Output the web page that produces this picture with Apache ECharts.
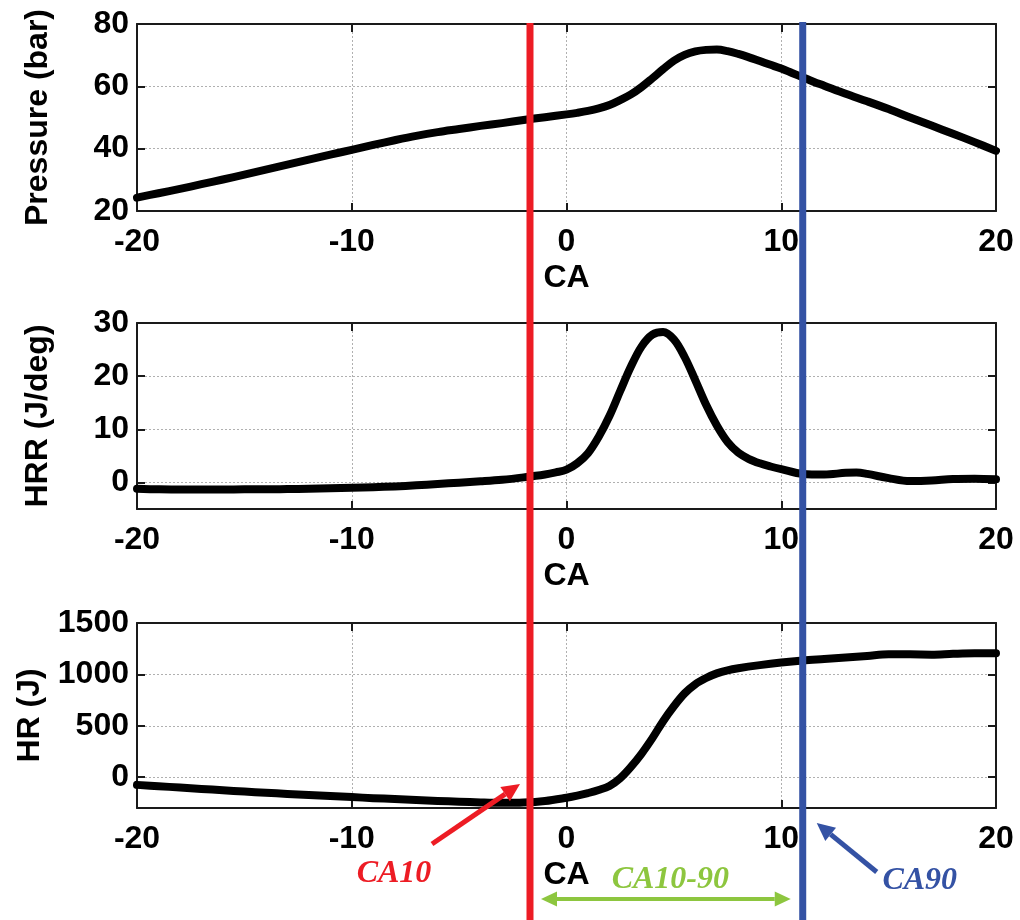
<!DOCTYPE html>
<html>
<head>
<meta charset="utf-8">
<script src="https://cdn.jsdelivr.net/npm/echarts@6/dist/echarts.min.js"></script>
<style>
  html, body { margin: 0; padding: 0; background: #fff; }
  #main { width: 1020px; height: 920px; }
</style>
</head>
<body>
<div id="main"></div>
<script>
// Crank angle (deg) and in-cylinder pressure (bar)
const caPressure = [-20,-19,-18,-17,-16,-15,-14,-13,-12,-11,-10,-9,-8,-7,-6,-5,-4,-3,-2,-1,
  0,0.5,1,1.5,2,2.5,3,3.5,4,4.5,5,5.5,6,6.5,7,7.5,8,8.5,9,9.5,10,10.5,11,11.5,12,13,14,15,16,17,18,19,20];
const pressure = [24.3,25.7,27.1,28.6,30.1,31.7,33.3,34.9,36.5,38.1,39.6,41.2,42.7,44.1,45.3,46.3,47.3,48.2,49.2,50.1,
  51.0,51.5,52.1,52.9,54.0,55.6,57.4,59.8,62.6,65.5,68.2,70.1,71.2,71.7,71.8,71.3,70.4,69.3,68.1,66.9,65.7,64.3,62.9,61.5,60.2,57.6,55.2,52.7,50.0,47.4,44.8,42.1,39.3];

// Heat release rate (J/deg)
const caHrr = [-20,-19,-18,-17,-16,-15,-14,-13,-12,-11,-10,-9,-8,-7,-6,-5,-4,-3,-2,-1,-0.5,
  0,0.5,1,1.5,2,2.5,3,3.5,4,4.5,5,5.5,6,6.5,7,7.5,8,8.5,9,9.5,10,11,12,13,13.5,14,15,16,17,18,19,20];
const hrr = [-1.2,-1.3,-1.35,-1.35,-1.35,-1.3,-1.3,-1.25,-1.2,-1.1,-1.0,-0.9,-0.75,-0.55,-0.3,-0.05,0.2,0.5,0.95,1.5,1.9,
  2.4,3.6,5.5,8.6,12.5,17.2,21.8,25.6,27.8,28.3,26.9,23.6,19.2,14.6,10.7,7.6,5.6,4.4,3.6,3.0,2.5,1.6,1.5,1.8,1.85,1.6,0.8,0.25,0.35,0.65,0.7,0.6];

// Cumulative heat release (J)
const caHr = [-20,-19,-18,-17,-16,-15,-14,-13,-12,-11,-10,-9,-8,-7,-6,-5,-4,-3,-2,-1,
  0,0.5,1,1.5,2,2.5,3,3.5,4,4.5,5,5.5,6,6.5,7,7.5,8,9,10,11,12,13,14,15,16,17,18,19,20];
const hr = [-75,-88,-101,-114,-127,-140,-152,-163,-174,-184,-194,-204,-213,-222,-231,-239,-246,-250,-247,-232,
  -200,-180,-155,-125,-85,-10,100,230,380,545,690,815,905,965,1010,1040,1060,1090,1115,1135,1150,1165,1180,1195,1195,1192,1200,1205,1205];

// Combustion phasing markers (deg)
const ca10 = -1.7;
const ca90 = 11.0;

// Axis ticks
const xTicks = [-20, -10, 0, 10, 20];
const pressureTicks = [20, 40, 60, 80];
const hrrTicks = [0, 10, 20, 30];
const hrTicks = [0, 500, 1000, 1500];

const panels = [
  { top: 24, height: 187, min: 20, max: 80, ticks: pressureTicks, name: 'Pressure (bar)', nameGap: 83, ca: caPressure, values: pressure },
  { top: 323, height: 186, min: -5, max: 30, ticks: hrrTicks, name: 'HRR (J/deg)', nameGap: 83, ca: caHrr, values: hrr },
  { top: 623, height: 185, min: -300, max: 1500, ticks: hrTicks, name: 'HR (J)', nameGap: 91, ca: caHr, values: hr }
];

const FONT = 'Liberation Sans, Arial, Helvetica, sans-serif';
const axisColor = '#1a1a1a';
const gridLine = { show: true, lineStyle: { type: [2, 2], color: '#b0b0b0', width: 1 } };
const labelText = { fontSize: 32, fontFamily: FONT, fontWeight: 'bold', color: '#000' };
const plain = v => String(v);

const grids = [], xAxes = [], yAxes = [], series = [];
panels.forEach((p, i) => {
  grids.push({ left: 137, right: 24, top: p.top, height: p.height });
  const tick = { show: true, inside: true, length: 8, lineStyle: { color: axisColor, width: 2 } };
  const line = { show: true, onZero: false, lineStyle: { color: axisColor, width: 2 } };
  xAxes.push({
    type: 'value', gridIndex: i, position: 'bottom', min: -20, max: 20, interval: 10,
    axisLine: line, axisTick: tick, splitLine: gridLine,
    axisLabel: Object.assign({ margin: 15, customValues: xTicks, formatter: plain }, labelText),
    name: 'CA', nameLocation: 'middle', nameGap: 51, nameTextStyle: labelText
  });
  xAxes.push({
    type: 'value', gridIndex: i, position: 'top', min: -20, max: 20, interval: 10,
    axisLine: line, axisTick: tick, axisLabel: { show: false }, splitLine: { show: false }
  });
  yAxes.push({
    type: 'value', gridIndex: i, position: 'left', min: p.min, max: p.max,
    axisLine: line,
    axisTick: Object.assign({ customValues: p.ticks }, tick),
    splitLine: gridLine,
    axisLabel: Object.assign({ margin: 8, customValues: p.ticks, formatter: plain }, labelText),
    name: p.name, nameLocation: 'middle', nameGap: p.nameGap, nameTextStyle: labelText
  });
  yAxes.push({
    type: 'value', gridIndex: i, position: 'right', min: p.min, max: p.max,
    axisLine: line,
    axisTick: Object.assign({ customValues: p.ticks }, tick),
    axisLabel: { show: false }, splitLine: { show: false }
  });
  series.push({
    type: 'line', xAxisIndex: 2 * i, yAxisIndex: 2 * i,
    data: p.ca.map((c, k) => [c, p.values[k]]),
    smooth: 0.35, showSymbol: false, silent: true,
    lineStyle: { color: '#000', width: 8, cap: 'round', join: 'round' }
  });
});

const chart = echarts.init(document.getElementById('main'), null, { renderer: 'canvas' });
chart.setOption({
  animation: false,
  backgroundColor: '#fff',
  grid: grids, xAxis: xAxes, yAxis: yAxes, series: series
});

// Phasing lines and annotations, positioned through the axes
const x10 = chart.convertToPixel({ xAxisIndex: 4 }, ca10);
const x90 = chart.convertToPixel({ xAxisIndex: 4 }, ca90);
const yTop = chart.convertToPixel({ yAxisIndex: 0 }, 80);
const yBase = chart.convertToPixel({ yAxisIndex: 4 }, -300);

function arrowHead(tx, ty, fx, fy, len, w) {
  const dx = tx - fx, dy = ty - fy, d = Math.hypot(dx, dy);
  const ux = dx / d, uy = dy / d;
  const bx = tx - ux * len, by = ty - uy * len;
  return { base: [bx, by], points: [[tx, ty], [bx - uy * w / 2, by + ux * w / 2], [bx + uy * w / 2, by - ux * w / 2]] };
}
function arrow(fx, fy, tx, ty, color, width, len, w) {
  const h = arrowHead(tx, ty, fx, fy, len, w);
  return [
    { type: 'line', z: 100, shape: { x1: fx, y1: fy, x2: h.base[0], y2: h.base[1] }, style: { stroke: color, lineWidth: width } },
    { type: 'polygon', z: 100, shape: { points: h.points }, style: { fill: color } }
  ];
}
function doubleArrow(x1, x2, y, color, width, len, w) {
  const a = arrowHead(x2, y, x1, y, len, w), b = arrowHead(x1, y, x2, y, len, w);
  return [
    { type: 'line', z: 100, shape: { x1: b.base[0], y1: y, x2: a.base[0], y2: y }, style: { stroke: color, lineWidth: width } },
    { type: 'polygon', z: 100, shape: { points: a.points }, style: { fill: color } },
    { type: 'polygon', z: 100, shape: { points: b.points }, style: { fill: color } }
  ];
}
const RED = '#ED1C24', BLUE = '#3452A4', GREEN = '#8DC63F';
const noteFont = 'italic bold 32px "Liberation Serif", "Times New Roman", serif';
function note(text, x, y, color) {
  return { type: 'text', z: 100, style: { text: text, x: x, y: y, fill: color, font: noteFont, align: 'center', verticalAlign: 'middle' } };
}

const graphic = [
  { type: 'line', z: 100, shape: { x1: x10, y1: yTop - 1, x2: x10, y2: 920 }, style: { stroke: RED, lineWidth: 7 } },
  { type: 'line', z: 100, shape: { x1: x90, y1: yTop - 2, x2: x90, y2: 920 }, style: { stroke: BLUE, lineWidth: 7 } }
]
  .concat(arrow(x10 - 98, yBase + 36, x10 - 10, yBase - 24, RED, 5, 18, 17))
  .concat(arrow(x90 + 74, yBase + 64, x90 + 14, yBase + 15, BLUE, 5, 18, 17))
  .concat(doubleArrow(x10 + 11, x90 - 12, yBase + 91, GREEN, 4, 16, 15))
  .concat([
    note('CA10', x10 - 136, yBase + 66, RED),
    note('CA10-90', (x10 + x90) / 2 + 4, yBase + 72, GREEN),
    note('CA90', x90 + 117, yBase + 73, BLUE)
  ]);
chart.setOption({ graphic: graphic });
</script>
</body>
</html>
